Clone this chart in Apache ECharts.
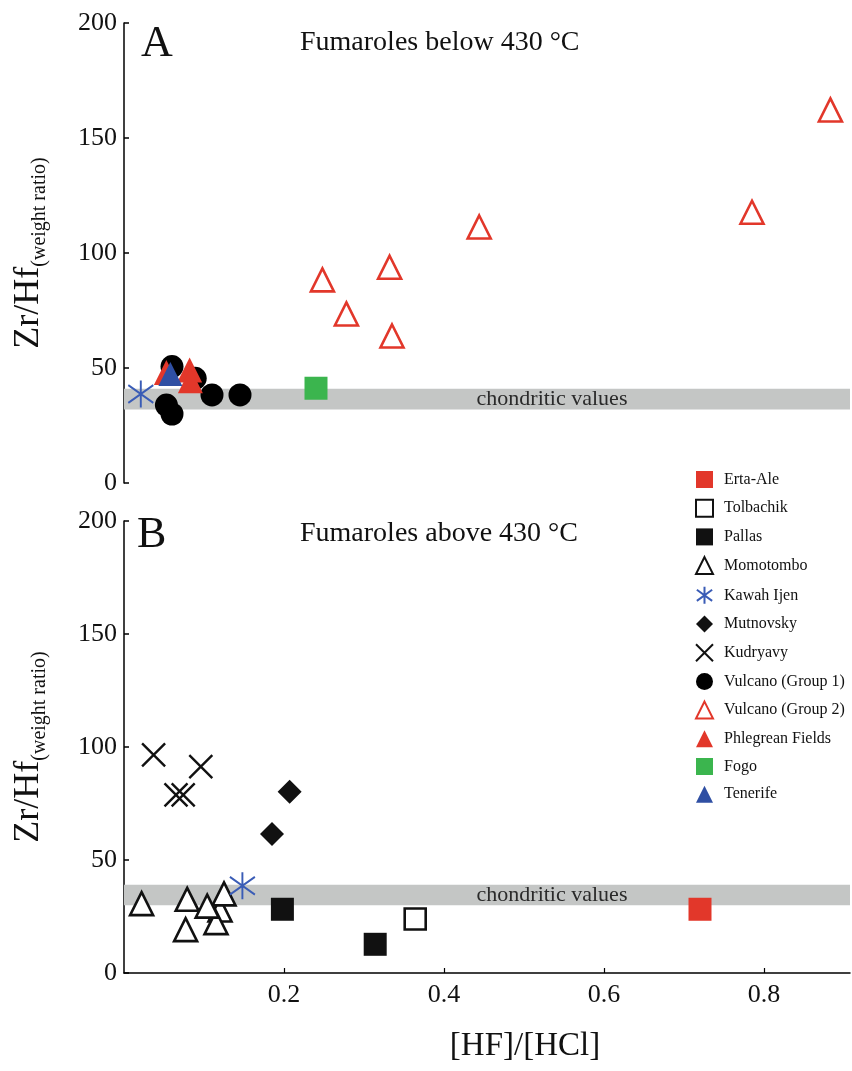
<!DOCTYPE html>
<html><head><meta charset="utf-8">
<script src="https://cdn.jsdelivr.net/npm/echarts@6/dist/echarts.min.js"></script>
<style>html,body{margin:0;padding:0;background:#fff}#c{width:852px;height:1071px}</style>
</head><body><div id="c"></div>
<script>
const xTicks = [0.2, 0.4, 0.6, 0.8];
const xMax = 0.9075;
const legendNames = ['Erta-Ale','Tolbachik','Pallas','Momotombo','Kawah Ijen','Mutnovsky','Kudryavy','Vulcano (Group 1)','Vulcano (Group 2)','Phlegrean Fields','Fogo','Tenerife'];
const chondriticA = [32, 41];
const chondriticB = [30, 39];
// Panel A: fumaroles below 430 °C
const vulcano1A = [[0.060,50.6],[0.053,33.9],[0.060,30.0],[0.089,45.5],[0.110,38.3],[0.145,38.3]];
const vulcano2A = [[0.248,88.3],[0.278,73.5],[0.332,93.8],[0.335,63.9],[0.444,111.3],[0.785,117.7],[0.883,162.2]];
const phlegreanA = [[0.053,48.0],[0.082,49.1],[0.083,44.5]];
const tenerifeA = [[0.058,47.4]];
const fogoA = [[0.240,41.2]];
const kawahA = [[0.021,38.7]];
// Panel B: fumaroles above 430 °C
const kudryavyB = [[0.037,96.5],[0.096,91.3],[0.065,78.8],[0.074,78.8]];
const mutnovskyB = [[0.207,80.2],[0.185,61.5]];
const momotomboB = [[0.022,30.7],[0.079,32.6],[0.077,19.2],[0.120,27.9],[0.125,35.0],[0.115,22.3],[0.104,29.6]];
const kawahB = [[0.148,38.6]];
const pallasB = [[0.198,28.2],[0.314,12.7]];
const tolbachikB = [[0.364,23.9]];
const ertaAleB = [[0.720,28.2]];

const FONT = '"Liberation Serif", "DejaVu Serif", serif';
const RED = '#e2372a', BLUE = '#2f4fa3', GREEN = '#3bb54e', ASTBLUE = '#3a5cb6';
const ASTERISK = 'path://M10 0 L10 20 M1 3.5 L19 16.5 M19 3.5 L1 16.5';
const CROSS = 'path://M0 0 L20 20 M20 0 L0 20';

function sc(name, idx, data, symbol, size, style) {
  return { type: 'scatter', name, xAxisIndex: idx, yAxisIndex: idx, data, symbol, symbolSize: size,
    itemStyle: Object.assign({opacity: 1}, style), emphasis: {disabled: true}, animation: false };
}
function band(idx, r) {
  return { type: 'scatter', name: 'band' + idx, xAxisIndex: idx, yAxisIndex: idx, data: [], silent: true,
    markArea: { silent: true, itemStyle: {color: '#c4c6c5'},
      label: {show: true, position: 'inside', offset: [65, 0], formatter: 'chondritic values', fontFamily: FONT, fontSize: 22, color: '#2a2a2a'},
      data: [[{xAxis: 0, yAxis: r[0]}, {xAxis: xMax, yAxis: r[1]}]] } };
}
function yAx(idx) {
  return { type: 'value', gridIndex: idx, min: 0, max: 200, interval: 50,
    axisLine: {show: true, lineStyle: {color: '#000', width: 1.5}},
    axisTick: {show: true, inside: true, length: 5, lineStyle: {color: '#000', width: 1.5}},
    axisLabel: {fontFamily: FONT, fontSize: 26, color: '#111', margin: 7},
    splitLine: {show: false},
    name: '{a|Zr/Hf}{b|(weight ratio)}', nameLocation: 'middle', nameGap: 74, nameRotate: 90,
    nameTextStyle: {fontFamily: FONT, color: '#111',
      rich: {a: {fontFamily: FONT, fontSize: 36, color: '#111', verticalAlign: 'bottom', padding: [0,0,3,0]},
             b: {fontFamily: FONT, fontSize: 20, color: '#111', verticalAlign: 'bottom'}}} };
}
const option = {
  backgroundColor: '#fff',
  animation: false,
  grid: [
    {left: 124, top: 23, width: 726, height: 460},
    {left: 124, top: 521, width: 726, height: 452}
  ],
  xAxis: [
    {type: 'value', gridIndex: 0, min: 0, max: xMax, show: false, splitLine: {show: false}},
    {type: 'value', gridIndex: 1, min: 0, max: xMax, interval: 0.2,
      axisLine: {show: true, onZero: false, lineStyle: {color: '#000', width: 1.5}},
      axisTick: {show: true, inside: true, length: 5, customValues: xTicks, lineStyle: {color: '#000', width: 1.2}},
      axisLabel: {fontFamily: FONT, fontSize: 26, color: '#111', margin: 9, customValues: xTicks},
      splitLine: {show: false},
      name: '[HF]/[HCl]', nameLocation: 'middle', nameGap: 57,
      nameTextStyle: {fontFamily: FONT, fontSize: 33, color: '#111', padding: [0, 0, 0, 76]}}
  ],
  yAxis: [yAx(0), yAx(1)],
  legend: {
    data: legendNames, orient: 'vertical', left: 695, top: 471, padding: 0,
    itemWidth: 17, itemHeight: 17, itemGap: 10.7,
    textStyle: {fontFamily: FONT, fontSize: 16, color: '#111', padding: [0,0,0,6]},
    selectedMode: false
  },
  graphic: [
    {type: 'text', left: 141, top: 22, style: {text: 'A', fontFamily: FONT, fontSize: 44, fill: '#111'}},
    {type: 'text', left: 137, top: 513, style: {text: 'B', fontFamily: FONT, fontSize: 44, fill: '#111'}},
    {type: 'text', left: 300, top: 29, style: {text: 'Fumaroles below 430 °C', fontFamily: FONT, fontSize: 28, fill: '#111'}},
    {type: 'text', left: 300, top: 520, style: {text: 'Fumaroles above 430 °C', fontFamily: FONT, fontSize: 28, fill: '#111'}}
  ],
  series: [
    band(0, chondriticA),
    band(1, chondriticB),
    sc('Erta-Ale', 1, ertaAleB, 'rect', 23, {color: RED}),
    sc('Tolbachik', 1, tolbachikB, 'rect', 21, {color: '#fff', borderColor: '#111', borderWidth: 2.6}),
    sc('Pallas', 1, pallasB, 'rect', 23, {color: '#111'}),
    sc('Momotombo', 1, momotomboB, 'triangle', 23, {color: '#fff', borderColor: '#111', borderWidth: 2.6}),
    sc('Kawah Ijen', 0, kawahA, ASTERISK, [25, 27], {color: 'transparent', borderColor: ASTBLUE, borderWidth: 2}),
    sc('Kawah Ijen', 1, kawahB, ASTERISK, [25, 27], {color: 'transparent', borderColor: ASTBLUE, borderWidth: 2}),
    sc('Mutnovsky', 1, mutnovskyB, 'diamond', 24, {color: '#111'}),
    sc('Kudryavy', 1, kudryavyB, CROSS, 23, {color: 'transparent', borderColor: '#111', borderWidth: 2.4}),
    sc('Vulcano (Group 1)', 0, vulcano1A, 'circle', 23, {color: '#000'}),
    sc('Vulcano (Group 2)', 0, vulcano2A, 'triangle', 23, {color: '#fff', borderColor: RED, borderWidth: 2.6}),
    sc('Phlegrean Fields', 0, phlegreanA, 'triangle', 25, {color: RED}),
    sc('Fogo', 0, fogoA, 'rect', 23, {color: GREEN}),
    sc('Tenerife', 0, tenerifeA, 'triangle', 24, {color: BLUE})
  ]
};
const chart = echarts.init(document.getElementById('c'), null, {renderer: 'canvas'});
chart.setOption(option);
</script>
</body></html>
